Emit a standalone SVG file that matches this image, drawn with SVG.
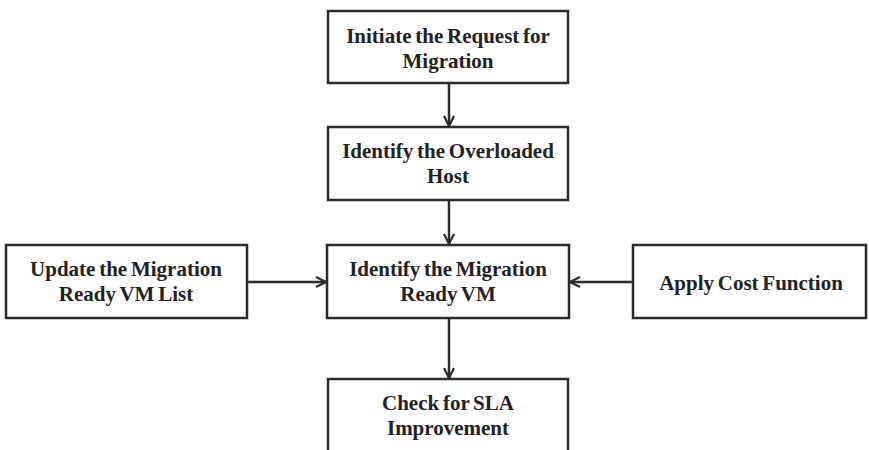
<svg xmlns="http://www.w3.org/2000/svg" width="869" height="450" viewBox="0 0 869 450">
  <defs>
    <marker id="arrow" viewBox="0 0 12 12" refX="11" refY="6" markerWidth="12" markerHeight="12" markerUnits="userSpaceOnUse" orient="auto">
      <path d="M1,1 L11,6 L1,11" fill="none" stroke="#2b2b2b" stroke-width="2.2"/>
    </marker>
  </defs>
  <style>
    .box { fill: #ffffff; stroke: #2b2b2b; stroke-width: 2.5; }
    .label { font-family: "Liberation Serif", "Times New Roman", serif; font-weight: bold; font-size: 21px; word-spacing: -1.5px; fill: #222222; text-anchor: middle; }
    .link { fill: none; stroke: #2b2b2b; stroke-width: 2.5; marker-end: url(#arrow); }
  </style>
  <rect width="869" height="450" fill="#ffffff"/>

  <g id="connectors">
    <line class="link" x1="449" y1="83" x2="449" y2="126"/>
    <line class="link" x1="449" y1="200" x2="449" y2="244"/>
    <line class="link" x1="247" y1="282" x2="326" y2="282"/>
    <line class="link" x1="633" y1="282" x2="570" y2="282"/>
    <line class="link" x1="449" y1="318" x2="449" y2="378"/>
  </g>

  <g id="initiate-request">
    <rect class="box" x="328" y="11" width="240" height="72"/>
    <text class="label" x="448" y="43">Initiate the Request for</text>
    <text class="label" x="448" y="68">Migration</text>
  </g>

  <g id="identify-overloaded-host">
    <rect class="box" x="328" y="127" width="240" height="73"/>
    <text class="label" x="448" y="158">Identify the Overloaded</text>
    <text class="label" x="448" y="183">Host</text>
  </g>

  <g id="identify-ready-vm">
    <rect class="box" x="327" y="245" width="242" height="73"/>
    <text class="label" x="448" y="276">Identify the Migration</text>
    <text class="label" x="448" y="301">Ready VM</text>
  </g>

  <g id="update-ready-list">
    <rect class="box" x="6" y="245" width="241" height="73"/>
    <text class="label" x="126" y="276">Update the Migration</text>
    <text class="label" x="126" y="301">Ready VM List</text>
  </g>

  <g id="apply-cost-function">
    <rect class="box" x="633" y="245" width="233" height="73"/>
    <text class="label" x="751" y="290">Apply Cost Function</text>
  </g>

  <g id="check-sla">
    <rect class="box" x="328" y="379" width="240" height="80"/>
    <text class="label" x="448" y="410">Check for SLA</text>
    <text class="label" x="448" y="435">Improvement</text>
  </g>
</svg>
